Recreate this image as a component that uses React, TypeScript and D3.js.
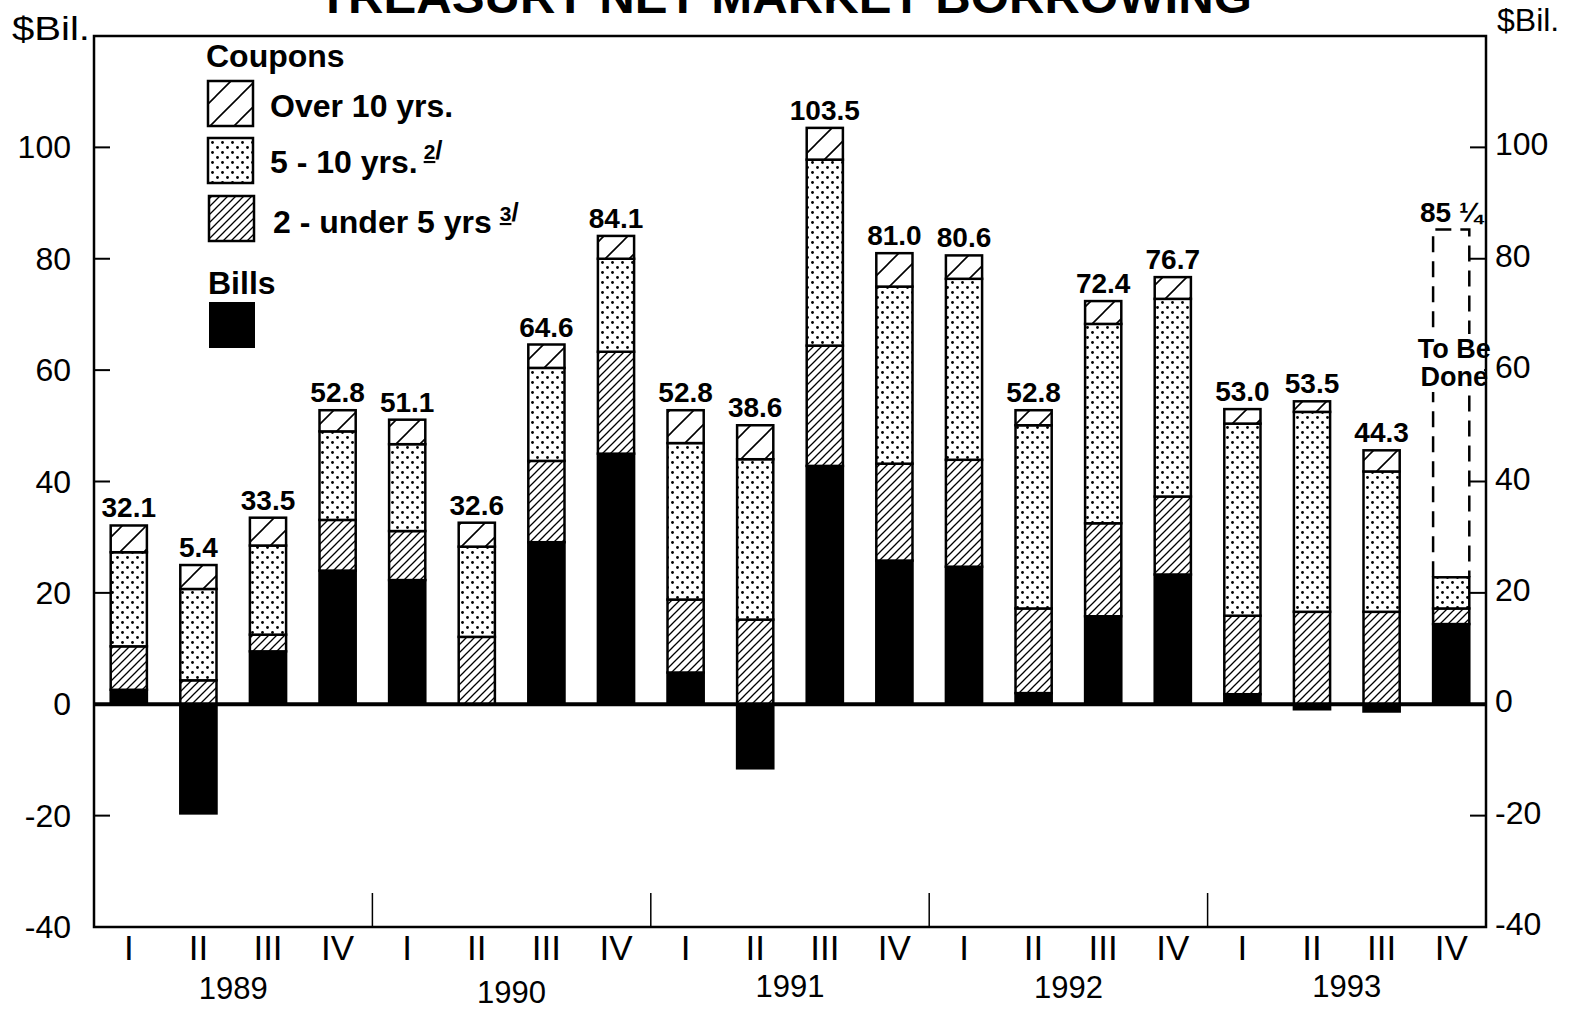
import React from "react";
import * as d3 from "d3";

const quarters = ["I", "II", "III", "IV", "I", "II", "III", "IV", "I", "II", "III", "IV", "I", "II", "III", "IV", "I", "II", "III", "IV"];
const years = ["1989", "1990", "1991", "1992", "1993"];
const bills = [2.6, -19.6, 9.5, 24.0, 22.3, 0.0, 29.1, 45.0, 5.7, -11.5, 42.8, 25.8, 24.7, 2.0, 15.8, 23.3, 1.8, -0.9, -1.3, 14.4];
const twoToFive = [7.8, 4.3, 3.0, 9.1, 8.8, 12.1, 14.6, 18.3, 13.1, 15.2, 21.6, 17.4, 19.2, 15.2, 16.7, 14.0, 14.1, 16.6, 16.6, 2.8];
const fiveToTen = [16.9, 16.4, 16.0, 15.9, 15.6, 16.2, 16.7, 16.7, 28.1, 28.8, 33.4, 31.8, 32.5, 32.9, 35.8, 35.5, 34.5, 35.9, 25.2, 5.6];
const overTen = [4.8, 4.3, 5.0, 3.8, 4.4, 4.3, 4.2, 4.1, 5.9, 6.1, 5.7, 6.0, 4.2, 2.7, 4.1, 3.9, 2.6, 1.9, 3.8, 0];
const totalLabels = ["32.1", "5.4", "33.5", "52.8", "51.1", "32.6", "64.6", "84.1", "52.8", "38.6", "103.5", "81.0", "80.6", "52.8", "72.4", "76.7", "53.0", "53.5", "44.3", "85 ¼"];
const toBeDoneTotal = 85.25;
const yTicks = [-40, -20, 0, 20, 40, 60, 80, 100];

const W = 1569;
const H = 1011;
const left = 94;
const right = 1486;
const top = 36;
const bottom = 927;
const FONT = "'Liberation Sans', Arial, Helvetica, sans-serif";

export default function App() {
  const idx = quarters.map((_, i) => i);
  const x = d3.scaleBand<number>().domain(idx).range([left, right]).paddingInner(0.48).paddingOuter(0.24);
  const y = d3.scaleLinear().domain([-40, 120]).range([bottom, top]);
  const bw = x.bandwidth();
  const step = x.step();

  const segs: { i: number; y0: number; y1: number; fill: string }[] = [];
  idx.forEach((i) => {
    let base = 0;
    const b = bills[i];
    if (b > 0) {
      segs.push({ i, y0: 0, y1: b, fill: "#000" });
      base = b;
    } else if (b < 0) {
      segs.push({ i, y0: b, y1: 0, fill: "#000" });
    }
    const parts = [
      [twoToFive[i], "url(#hatchDense)"],
      [fiveToTen[i], "url(#dots)"],
      [overTen[i], "url(#hatchWide)"],
    ] as [number, string][];
    parts.forEach(([v, f]) => {
      if (v > 0) {
        segs.push({ i, y0: base, y1: base + v, fill: f });
        base += v;
      }
    });
  });

  const topOf = (i: number) => Math.max(0, bills[i]) + twoToFive[i] + fiveToTen[i] + overTen[i];
  const last = idx.length - 1;
  const lx = x(last)!;
  const doneTop = topOf(last);

  return (
    <svg width={W} height={H} style={{ position: "absolute", left: 0, top: 0, display: "block", background: "#fff" }} fontFamily={FONT}>
      <defs>
        <pattern id="hatchWide" patternUnits="userSpaceOnUse" width="24" height="24">
          <rect width="24" height="24" fill="#fff" />
          <path d="M0,24 L24,0 M-6,6 L6,-6 M18,30 L30,18" stroke="#000" strokeWidth="1.6" />
        </pattern>
        <pattern id="hatchDense" patternUnits="userSpaceOnUse" width="8" height="8">
          <rect width="8" height="8" fill="#fff" />
          <path d="M0,8 L8,0 M-2,2 L2,-2 M6,10 L10,6" stroke="#000" strokeWidth="1.3" />
        </pattern>
        <pattern id="dots" patternUnits="userSpaceOnUse" width="10" height="10">
          <rect width="10" height="10" fill="#fff" />
          <circle cx="2.5" cy="2.5" r="1.4" fill="#000" />
          <circle cx="7.5" cy="7.5" r="1.4" fill="#000" />
        </pattern>
      </defs>

      {/* Title (cut at top, as in the reference) */}
      <text x={785} y={13} textAnchor="middle" fontSize={46} fontWeight="bold" textLength={934} lengthAdjust="spacingAndGlyphs">
        TREASURY NET MARKET BORROWING
      </text>

      {/* Axis unit labels */}
      <text x={12} y={40} fontSize={34} textLength={78} lengthAdjust="spacingAndGlyphs">$Bil.</text>
      <text x={1497} y={31} fontSize={32}>$Bil.</text>

      {/* To be done note background (drawn under the frame) */}
      <rect x={lx - 30} y={334} width={right - 2 - (lx - 30)} height={58} fill="#fff" />

      {/* Frame */}
      <rect x={left} y={top} width={right - left} height={bottom - top} fill="none" stroke="#000" strokeWidth={2.5} />

      {/* Y ticks left & right */}
      {yTicks.map((t) => (
        <g key={t}>
          {t > -40 && <line x1={left} x2={left + 16} y1={y(t)} y2={y(t)} stroke="#000" strokeWidth={2} />}
          {t > -40 && <line x1={right - 16} x2={right} y1={y(t)} y2={y(t)} stroke="#000" strokeWidth={2} />}
          <text x={71} y={y(t) + 11} textAnchor="end" fontSize={32}>{t}</text>
          <text x={1495} y={y(t) + 8} textAnchor="start" fontSize={32}>{t}</text>
        </g>
      ))}

      {/* Year separators */}
      {years.slice(1).map((yr, k) => {
        const xs = left + step * 4 * (k + 1);
        return <line key={yr} x1={xs} x2={xs} y1={bottom} y2={bottom - 34} stroke="#000" strokeWidth={1.5} />;
      })}

      {/* Bars */}
      {segs.map((s, k) => (
        <rect key={k} x={x(s.i)} y={y(s.y1)} width={bw} height={y(s.y0) - y(s.y1)} fill={s.fill} stroke="#000" strokeWidth={2.5} />
      ))}

      {/* Zero line */}
      <line x1={left} x2={right} y1={y(0)} y2={y(0)} stroke="#000" strokeWidth={4} />

      {/* To be done dashed box */}
      <path
        d={`M${lx},${y(doneTop)} L${lx},${y(toBeDoneTotal)} L${lx + bw},${y(toBeDoneTotal)} L${lx + bw},${y(doneTop)}`}
        fill="none"
        stroke="#000"
        strokeWidth={2.5}
        strokeDasharray="16 9"
      />
      <rect x={lx - 30} y={334} width={right - 2 - (lx - 30)} height={58} fill="#fff" />
      <text x={lx + bw / 2 + 3} y={358} textAnchor="middle" fontSize={27} fontWeight="bold">To Be</text>
      <text x={lx + bw / 2 + 3} y={386} textAnchor="middle" fontSize={27} fontWeight="bold">Done</text>

      {/* Totals */}
      {idx.map((i) => {
        const tv = i === last ? toBeDoneTotal : topOf(i);
        return (
          <text key={i} x={x(i)! + bw / 2} y={y(tv) - 8} textAnchor="middle" fontSize={28} fontWeight="bold">
            {totalLabels[i]}
          </text>
        );
      })}

      {/* Quarter labels */}
      {idx.map((i) => (
        <text key={i} x={x(i)! + bw / 2} y={960} textAnchor="middle" fontSize={35}>
          {quarters[i]}
        </text>
      ))}

      {/* Year labels */}
      {years.map((yr, k) => (
        <text key={yr} x={left + step * (4 * k + 2)} y={[999, 1003, 997, 998, 997][k]} textAnchor="middle" fontSize={31}>
          {yr}
        </text>
      ))}

      {/* Legend */}
      <g fontWeight="bold" fontSize={32}>
        <text x={206} y={67}>Coupons</text>
        <rect x={208} y={81} width={45} height={45} fill="url(#hatchWide)" stroke="#000" strokeWidth={2.5} />
        <text x={270} y={117}>Over 10 yrs.</text>
        <rect x={208} y={138} width={45} height={45} fill="url(#dots)" stroke="#000" strokeWidth={2.5} />
        <text x={270} y={173}>
          5 - 10 yrs.
          <tspan dx={6} dy={-14} fontSize={21} textDecoration="underline">2</tspan>
          <tspan fontSize={26}>/</tspan>
        </text>
        <rect x={209} y={196} width={45} height={45} fill="url(#hatchDense)" stroke="#000" strokeWidth={2.5} />
        <text x={273} y={233}>
          2 - under 5 yrs
          <tspan dx={8} dy={-12} fontSize={21} textDecoration="underline">3</tspan>
          <tspan fontSize={26}>/</tspan>
        </text>
        <text x={208} y={294}>Bills</text>
        <rect x={209} y={302} width={46} height={46} fill="#000" />
      </g>
    </svg>
  );
}
